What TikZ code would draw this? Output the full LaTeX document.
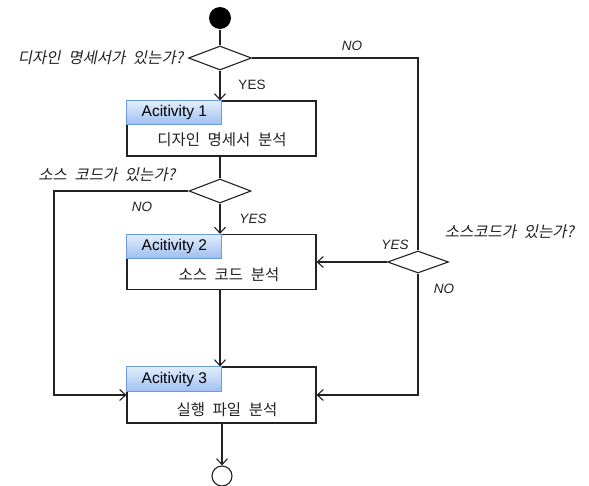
\documentclass[tikz,border=0pt]{standalone}
\usepackage{fontspec}
\setmainfont{Liberation Sans}
\newfontfamily\kr[WordSpace=2.2]{Noto Sans CJK KR}
\newfontfamily\krit[WordSpace=2.2,FakeSlant=0.2]{Noto Sans CJK KR}
\usetikzlibrary{shapes.geometric,arrows.meta}
\definecolor{hdtop}{HTML}{E2EDFD}
\definecolor{hdbot}{HTML}{9DBFF0}
\definecolor{hdline}{HTML}{6A9BDF}
\definecolor{ink}{HTML}{222222}
\begin{document}
\begin{tikzpicture}[x=1pt,y=-1pt,
  line width=1.1pt,
  flow/.style={draw=ink},
  arr/.style={flow,-{Straight Barb[length=6pt,width=11pt,line width=1.1pt]}},
  dec/.style={draw=ink,diamond,inner sep=0pt},
  actbox/.style={draw=ink,rectangle,inner sep=0pt,minimum width=189pt,minimum height=55pt},
  hdr/.style={draw=hdline,line width=0.9pt,rectangle,top color=hdtop,bottom color=hdbot,inner sep=0pt,minimum width=95pt,minimum height=24pt,font=\fontsize{15.5}{15.5}\selectfont},
  krtxt/.style={text=ink,font=\kr\fontsize{15.5}{15.5}\selectfont},
  krq/.style={text=ink,font=\krit\fontsize{15.5}{15.5}\selectfont},
  lbl/.style={text=ink,font=\fontsize{13.5}{13.5}\selectfont},
  lbli/.style={text=ink,font=\itshape\fontsize{13.5}{13.5}\selectfont}]
\useasboundingbox (0,0) rectangle (589,485);
% nodes
\node[circle,fill=black,inner sep=0pt,minimum size=22pt] (start) at (220,18) {};
\node[dec,minimum width=63pt,minimum height=24pt] (d1) at (220,58) {};
\node[actbox] (b1) at (221.5,128.5) {};
\node[hdr,anchor=north west] (h1) at (b1.north west) {Acitivity 1};
\node[krtxt] (t1) at (222,140) {디자인 명세서 분석};
\node[dec,minimum width=62pt,minimum height=24pt] (d2) at (220,191) {};
\node[actbox] (b2) at (221.5,262) {};
\node[hdr,anchor=north west] (h2) at (b2.north west) {Acitivity 2};
\node[krtxt] (t2) at (229,275) {소스 코드 분석};
\node[dec,minimum width=61pt,minimum height=22pt] (d3) at (418,262) {};
\node[actbox,minimum height=56pt] (b3) at (221.5,395) {};
\node[hdr,anchor=north west,minimum height=25pt] (h3) at (b3.north west) {Acitivity 3};
\node[krtxt] (t3) at (227,410) {실행 파일 분석};
\node[circle,draw=ink,fill=white,inner sep=0pt,minimum size=20pt] (end) at (222,476) {};
\coordinate (cl) at (54,191);
\coordinate (cr) at (418,58);
% labels
\node[krq,anchor=east] (q1) at (187,58) {디자인 명세서가 있는가?};
\node[lbli] (no1) at (352,46) {NO};
\node[lbl] (yes1) at (252,85) {YES};
\node[krq,anchor=east] (q2) at (179,175) {소스 코드가 있는가?};
\node[lbli] (no2) at (142,207) {NO};
\node[lbli] (yes2) at (253,219) {YES};
\node[krq,anchor=west] (q3) at (441,232) {소스코드가 있는가?};
\node[lbli] (yes3) at (395,245) {YES};
\node[lbli] (no3) at (444,289) {NO};
% connectors
\draw[flow] (start) -- (d1.north);
\draw[arr] (d1.south) -- (d1.south |- b1.north);
\draw[flow] (d1.east) -- (cr) -- (d3.north);
\draw[flow] (d1.south |- b1.south) -- (d2.north);
\draw[arr] (d2.south) -- (d2.south |- b2.north);
\draw[arr] (d2.west) -- (cl) -- (cl |- b3.west) -- (b3.west);
\draw[arr] (d3.west) -- (b2.east);
\draw[arr] (d3.south) -- (d3.south |- b3.east) -- (b3.east);
\draw[arr] (b2.south -| d2.south) -- (b3.north -| d2.south);
\draw[arr] (b3.south -| end.north) -- (end.north);
\end{tikzpicture}
\end{document}
